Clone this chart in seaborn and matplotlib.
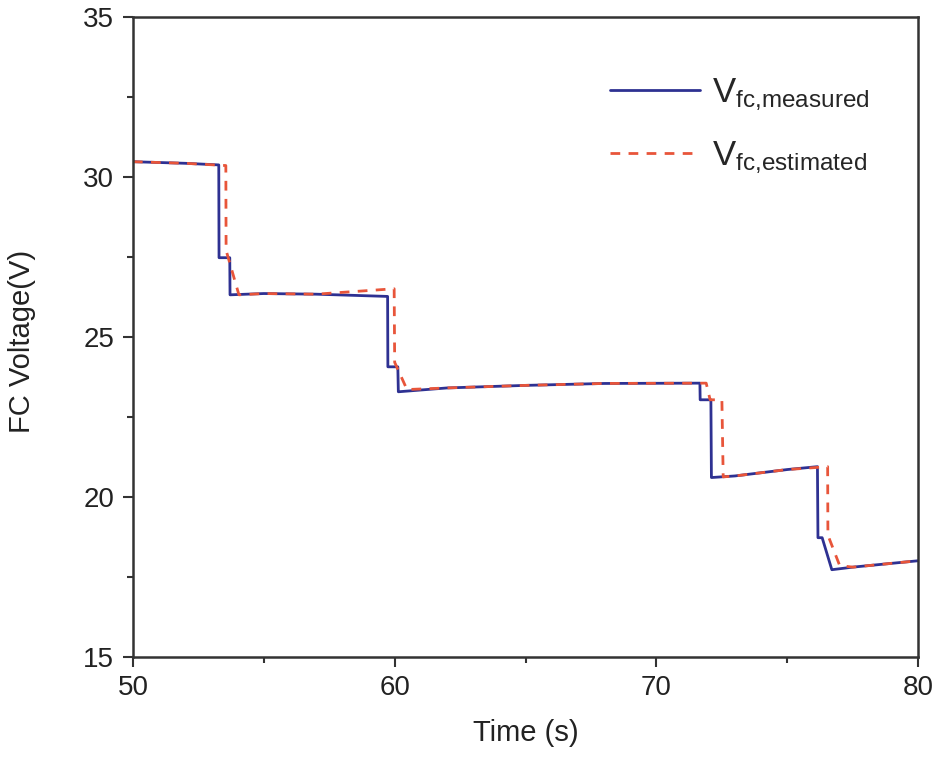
import matplotlib
matplotlib.use("Agg")
import matplotlib.pyplot as plt
import seaborn as sns
import pandas as pd
from matplotlib.ticker import MultipleLocator

# Data
t_meas = [50, 52, 53.28, 53.29, 53.70, 53.71, 55, 57, 59.73, 59.74, 60.12, 60.14,
          62, 65, 68, 71.66, 71.67, 72.08, 72.10, 73, 75, 76.15, 76.17, 76.33, 76.7, 77.5, 80]
v_meas = [30.47, 30.42, 30.37, 27.47, 27.47, 26.31, 26.35, 26.33, 26.26, 24.06, 24.06, 23.28,
          23.40, 23.48, 23.54, 23.55, 23.03, 23.03, 20.60, 20.65, 20.85, 20.94, 18.72, 18.72, 17.72, 17.80, 18.0]

t_est = [50, 52, 53.55, 53.56, 54.05, 55, 57, 59.98, 60.0, 60.47, 62, 65, 68, 71.9, 72.05,
         72.5, 72.55, 73, 75, 76.54, 76.55, 77.0, 77.5, 80]
v_est = [30.47, 30.42, 30.35, 27.7, 26.31, 26.35, 26.33, 26.5, 24.2, 23.35, 23.40, 23.48, 23.54,
         23.55, 23.03, 23.03, 20.62, 20.65, 20.85, 20.94, 18.8, 17.85, 17.80, 18.0]

label_meas = r"$\mathregular{V_{fc{,}measured}}$"
label_est = r"$\mathregular{V_{fc{,}estimated}}$"
x_label = "Time (s)"
y_label = "FC Voltage(V)"

sns.set_style("ticks")
plt.rcParams["font.family"] = ["Liberation Sans", "DejaVu Sans"]
plt.rcParams["mathtext.fontset"] = "custom"
plt.rcParams["mathtext.rm"] = "Liberation Sans"

df_m = pd.DataFrame({"t": t_meas, "v": v_meas})
df_e = pd.DataFrame({"t": t_est, "v": v_est})

fig = plt.figure(figsize=(9.36, 7.61), dpi=100)
ax = fig.add_axes([0.142, 0.137, 0.839, 0.841])

sns.lineplot(data=df_m, x="t", y="v", ax=ax, sort=False, estimator=None,
             color="#2e3192", lw=2.0, label=label_meas)
sns.lineplot(data=df_e, x="t", y="v", ax=ax, sort=False, estimator=None,
             color="#e8553a", lw=2.0, label=label_est)
ax.lines[1].set_dashes((3.5, 3))

ax.set_xlim(50, 80)
ax.set_ylim(15, 35)
ax.xaxis.set_major_locator(MultipleLocator(10))
ax.xaxis.set_minor_locator(MultipleLocator(5))
ax.yaxis.set_major_locator(MultipleLocator(5))
ax.yaxis.set_minor_locator(MultipleLocator(2.5))
ax.tick_params(which="major", direction="out", length=7.5, width=1.5, labelsize=20,
               colors="#333333", labelcolor="#222222", pad=6)
ax.tick_params(which="minor", direction="out", length=4, width=1.5, colors="#333333")
for s in ax.spines.values():
    s.set_linewidth(1.8)
    s.set_color("#333333")

ax.set_xlabel(x_label, fontsize=21, color="#222222")
ax.set_ylabel(y_label, fontsize=21, color="#222222")
ax.xaxis.set_label_coords(0.5, -0.098)
ax.yaxis.set_label_coords(-0.123, 0.493)

leg = ax.legend(loc="upper left", bbox_to_anchor=(0.6076, 0.907), frameon=False,
                fontsize=25, handlelength=2.6, labelspacing=0.75, handletextpad=0.35,
                borderpad=0, borderaxespad=0)

fig.savefig("out.png", dpi=100)
